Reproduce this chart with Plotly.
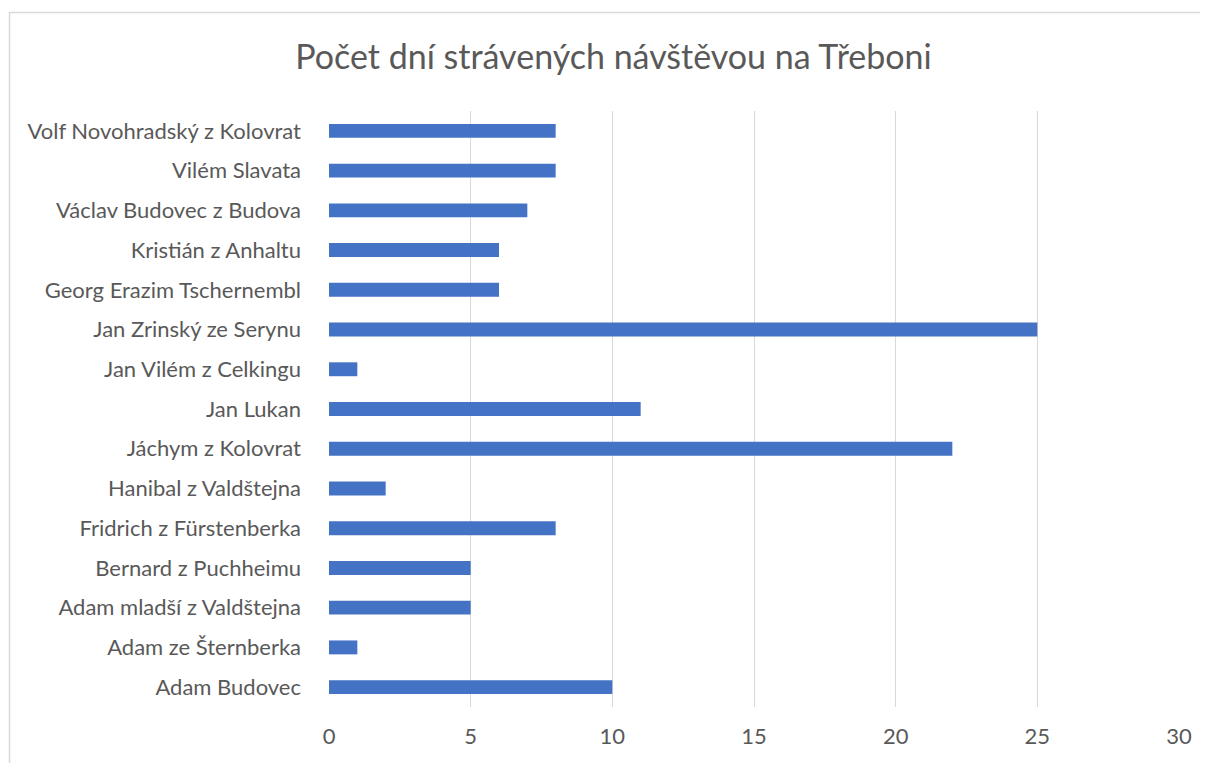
import plotly.graph_objects as go

categories = [
    "Adam Budovec",
    "Adam ze Šternberka",
    "Adam mladší z Valdštejna",
    "Bernard z Puchheimu",
    "Fridrich z Fürstenberka",
    "Hanibal z Valdštejna",
    "Jáchym z Kolovrat",
    "Jan Lukan",
    "Jan Vilém z Celkingu",
    "Jan Zrinský ze Serynu",
    "Georg Erazim Tschernembl",
    "Kristián z Anhaltu",
    "Václav Budovec z Budova",
    "Vilém Slavata",
    "Volf Novohradský z Kolovrat",
]
days = [10, 1, 5, 5, 8, 2, 22, 11, 1, 25, 6, 6, 7, 8, 8]
x_ticks = [0, 5, 10, 15, 20, 25, 30]

title_text = "Počet dní strávených návštěvou na Třeboni"

FONT = "Lato"
TXT = "#595959"

W, H = 1200, 755
L, R, T, B = 321, 29, 103, 56
PW, PH = W - L - R, H - T - B

fig = go.Figure(
    go.Bar(
        x=days,
        y=categories,
        orientation="h",
        marker=dict(color="#4472C4", line=dict(width=0)),
        width=0.35,
        hoverinfo="x+y",
    )
)

fig.update_layout(
    width=W,
    height=H,
    paper_bgcolor="white",
    plot_bgcolor="white",
    margin=dict(l=L, r=R, t=T, b=B, autoexpand=False),
    showlegend=False,
    title=dict(
        text=title_text,
        x=605.5 / W,
        xref="container",
        xanchor="center",
        y=1 - 49 / H,
        yref="container",
        yanchor="middle",
        font=dict(family=FONT, size=34, color=TXT),
    ),
    xaxis=dict(
        range=[0, 30],
        tickvals=x_ticks,
        showgrid=True,
        gridcolor="#D9D9D9",
        gridwidth=1.3,
        zeroline=False,
        showline=False,
        ticks="",
        tickfont=dict(family=FONT, size=22, color=TXT),
        ticklabelstandoff=14,
        fixedrange=True,
    ),
    yaxis=dict(
        categoryorder="array",
        categoryarray=categories,
        showgrid=False,
        zeroline=False,
        showline=False,
        ticks="",
        tickfont=dict(family=FONT, size=22, color=TXT),
        ticklabelstandoff=27,
        fixedrange=True,
    ),
    shapes=[
        dict(
            type="rect",
            xref="paper",
            yref="paper",
            x0=(1.5 - L) / PW,
            x1=(W + 10 - L) / PW,
            y0=(T + PH - (H + 10)) / PH,
            y1=(T + PH - 4.5) / PH,
            line=dict(color="#D9D9D9", width=1.5),
            fillcolor="rgba(0,0,0,0)",
            layer="below",
        )
    ],
)

fig.write_html("out.html")
